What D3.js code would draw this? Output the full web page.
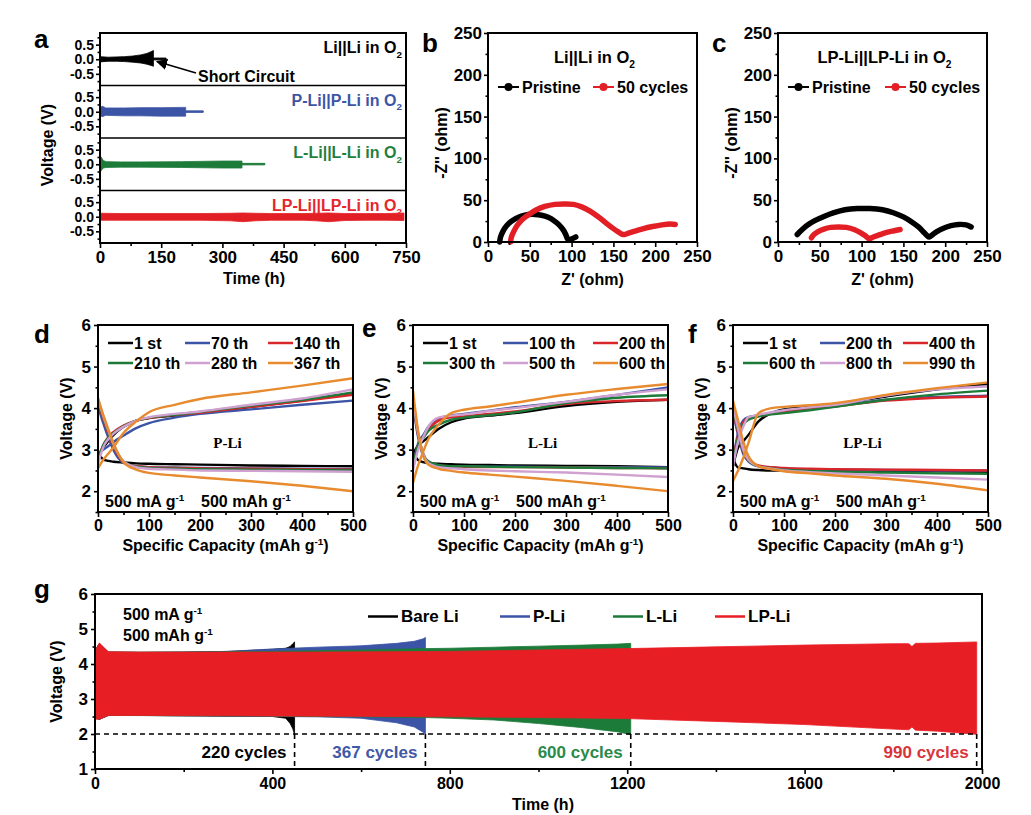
<!DOCTYPE html>
<html><head><meta charset="utf-8">
<script src="https://cdn.jsdelivr.net/npm/d3@7"></script>
<style>body{margin:0;background:#fff}</style>
</head><body><script>
// ================= DATA =================
// Panel a : symmetric cells, envelope of voltage oscillation (time h, V)
const aLiT=[0,20,40,60,80,100,115,125,131];
const aLiUp=[0.09,0.07,0.08,0.09,0.11,0.15,0.2,0.26,0.3];
const aLiLo=[-0.09,-0.07,-0.07,-0.08,-0.1,-0.13,-0.17,-0.21,-0.24];
const aLiTailT=[131,162], aLiTailUp=[0.04,0.04], aLiTailLo=[-0.02,-0.02];
const aPT=[2,5,9,14,30,60,100,150,200,210];
const aPUp=[0.15,0.19,0.17,0.13,0.13,0.13,0.14,0.14,0.15,0.15];
const aPLo=[-0.13,-0.17,-0.15,-0.12,-0.13,-0.14,-0.14,-0.15,-0.15,-0.15];
const aPTailT=[210,253], aPTailUp=[0.03,0.03], aPTailLo=[-0.02,-0.02];
const aLT=[0,3,8,15,50,100,200,300,348];
const aLUp=[0.22,0.25,0.13,0.09,0.08,0.08,0.09,0.11,0.11];
const aLLo=[-0.2,-0.22,-0.13,-0.11,-0.1,-0.1,-0.11,-0.13,-0.13];
const aLTailT=[348,404], aLTailUp=[0.03,0.03], aLTailLo=[-0.02,-0.02];
const aLPT=[0,4,50,150,250,320,350,380,420,500,530,560,600,650,700,745];
const aLPUp=[0.15,0.12,0.11,0.11,0.11,0.12,0.13,0.12,0.11,0.11,0.12,0.13,0.11,0.11,0.11,0.13];
const aLPLo=[-0.15,-0.12,-0.12,-0.12,-0.12,-0.14,-0.17,-0.14,-0.12,-0.12,-0.14,-0.17,-0.13,-0.12,-0.12,-0.13];
const aXTicks=[0,150,300,450,600,750], aXMinor=[75,225,375,525,675];
const aYTicks=[-0.5,0,0.5], aYMinor=[-0.75,-0.25,0.25,0.75];

// Panel b : Li||Li Nyquist (Z', -Z'')
const bPrisZr=[14,15,18,22,27,33,40,48,56,64,72,79,85,90,93,95,97,100,105];
const bPrisZi=[0,6,13,19,24,28,31,32.8,33,32,29.5,25.5,20.5,14.5,9,4,2,3.5,6];
const b50Zr=[27,28,31,35,41,49,58,68,80,92,102,112,122,132,142,150,156,160,163,168,176,186,197,208,218,224];
const b50Zi=[0,6,13,20,27,33,38.5,42.5,45,45.5,45,42,37,30,22,16,12,9.5,9,10.5,13,16,18.5,20.5,21.5,21];
// Panel c : LP-Li||LP-Li Nyquist
const cPrisZr=[23,28,35,44,55,67,80,95,110,125,138,150,160,168,174,178,181,184,190,198,207,216,225,231];
const cPrisZi=[9,14,20,25.5,30.5,35,38.5,40,40,38.5,35,30,24,18,12,8,6,8,12.5,16.5,19.5,21,20.5,18];
const c50Zr=[40,43,48,55,63,72,82,91,99,105,109,114,121,130,139,146];
const c50Zi=[5,9,12.5,15.5,17.5,18,17.5,15,11,7,4,6,8.5,11.5,13.5,15];
const bTicks=[0,50,100,150,200,250], bMinor=[25,75,125,175,225];

// Panels d-f : charge/discharge profiles (specific capacity mAh/g, V)
const cap=[0,10,20,30,50,75,100,150,200,300,400,500];
const dLabels=["1 st","70 th","140 th","210 th","280 th","367 th"];
const dCh=[
 [2.85,3.05,3.2,3.35,3.55,3.7,3.76,3.82,3.88,4.03,4.18,4.35],
 [2.9,3.0,3.08,3.18,3.34,3.52,3.64,3.77,3.86,3.97,4.08,4.18],
 [2.75,3.1,3.3,3.42,3.58,3.7,3.76,3.83,3.89,4.03,4.17,4.32],
 [2.7,3.1,3.28,3.4,3.56,3.7,3.77,3.84,3.91,4.06,4.2,4.38],
 [2.65,3.05,3.25,3.38,3.55,3.7,3.78,3.86,3.92,4.08,4.23,4.45],
 [2.55,2.75,2.9,3.05,3.4,3.68,3.9,4.08,4.22,4.38,4.54,4.72]];
const dDis=[
 [2.9,2.77,2.73,2.71,2.69,2.67,2.66,2.65,2.64,2.62,2.61,2.6],
 [4.05,3.65,3.3,3.0,2.68,2.6,2.58,2.57,2.56,2.55,2.54,2.53],
 [4.15,3.75,3.4,3.08,2.7,2.6,2.58,2.56,2.55,2.54,2.53,2.52],
 [4.2,3.8,3.45,3.12,2.72,2.59,2.56,2.54,2.53,2.52,2.51,2.5],
 [4.22,3.82,3.47,3.14,2.72,2.58,2.54,2.52,2.5,2.49,2.48,2.47],
 [4.25,3.85,3.5,3.17,2.7,2.52,2.44,2.38,2.33,2.24,2.13,2.0]];
const eLabels=["1 st","100 th","200 th","300 th","500 th","600 th"];
const eCh=[
 [2.9,3.1,3.2,3.3,3.5,3.66,3.75,3.82,3.88,4.05,4.15,4.2],
 [2.6,3.15,3.35,3.55,3.75,3.82,3.86,3.94,4.02,4.15,4.32,4.5],
 [2.6,3.1,3.3,3.48,3.7,3.78,3.8,3.86,3.92,4.1,4.17,4.2],
 [2.6,3.1,3.28,3.45,3.6,3.72,3.77,3.83,3.9,4.12,4.25,4.31],
 [2.5,3.0,3.3,3.55,3.77,3.82,3.85,3.93,4.0,4.15,4.32,4.45],
 [2.2,2.62,2.95,3.25,3.6,3.88,3.96,4.04,4.13,4.32,4.46,4.58]];
const eDis=[
 [2.95,2.75,2.7,2.68,2.66,2.65,2.64,2.63,2.62,2.61,2.6,2.58],
 [4.1,3.3,2.85,2.7,2.62,2.6,2.6,2.59,2.59,2.58,2.58,2.57],
 [4.15,3.35,2.9,2.7,2.62,2.6,2.59,2.58,2.58,2.57,2.56,2.55],
 [4.2,3.4,2.9,2.72,2.63,2.6,2.6,2.59,2.58,2.57,2.56,2.55],
 [4.25,3.4,2.9,2.68,2.58,2.55,2.53,2.5,2.48,2.45,2.4,2.34],
 [4.42,3.45,2.85,2.64,2.54,2.49,2.45,2.4,2.35,2.25,2.13,2.0]];
const fLabels=["1 st","200 th","400 th","600 th","800 th","990 th"];
const fCh=[
 [2.6,3.05,3.2,3.35,3.68,3.88,3.97,4.03,4.1,4.28,4.45,4.58],
 [2.75,3.4,3.7,3.78,3.82,3.87,3.92,3.98,4.05,4.2,4.27,4.3],
 [2.7,3.35,3.65,3.76,3.8,3.86,3.9,3.97,4.04,4.18,4.25,4.28],
 [2.65,3.3,3.6,3.72,3.8,3.85,3.88,3.95,4.03,4.2,4.33,4.42],
 [2.6,3.2,3.55,3.78,3.84,3.9,3.95,4.02,4.08,4.3,4.45,4.52],
 [2.25,2.5,2.8,3.15,3.88,4.0,4.03,4.07,4.12,4.32,4.48,4.62]];
const fDis=[
 [2.78,2.57,2.55,2.53,2.51,2.5,2.5,2.49,2.49,2.48,2.48,2.47],
 [3.9,3.35,2.9,2.72,2.6,2.57,2.55,2.53,2.52,2.51,2.5,2.5],
 [3.95,3.4,2.95,2.74,2.62,2.58,2.56,2.54,2.53,2.52,2.51,2.5],
 [4.0,3.45,2.98,2.75,2.6,2.55,2.52,2.49,2.47,2.45,2.43,2.42],
 [4.05,3.5,3.0,2.76,2.6,2.54,2.5,2.46,2.43,2.38,2.33,2.28],
 [4.18,3.7,3.2,2.85,2.6,2.53,2.48,2.43,2.38,2.3,2.18,2.02]];
const capTicks=[0,100,200,300,400,500], capMinor=[50,150,250,350,450];
const vTicks=[2,3,4,5,6], vMinor=[1.5,2.5,3.5,4.5,5.5];

// Panel g : full-cell cycling envelopes (time h, upper V, lower V)
const gBareT=[0,3,10,30,100,200,300,400,430,440,446,450];
const gBareUp=[3.3,4.45,4.58,4.34,4.33,4.34,4.36,4.42,4.45,4.5,4.58,4.63];
const gBareLo=[3.15,2.45,2.42,2.53,2.53,2.52,2.51,2.5,2.45,2.3,2.15,1.98];
const gPT=[0,3,10,30,100,200,300,400,500,600,680,720,740,745];
const gPUp=[3.3,4.45,4.58,4.34,4.33,4.34,4.36,4.43,4.48,4.52,4.59,4.65,4.72,4.76];
const gPLo=[3.15,2.45,2.42,2.53,2.53,2.52,2.51,2.5,2.49,2.45,2.32,2.2,2.05,1.98];
const gLT=[0,3,10,30,200,400,600,745,800,900,1000,1100,1180,1208];
const gLUp=[3.3,4.45,4.58,4.34,4.34,4.36,4.4,4.44,4.45,4.48,4.51,4.54,4.57,4.59];
const gLLo=[3.15,2.45,2.42,2.53,2.52,2.51,2.49,2.47,2.45,2.4,2.3,2.18,2.06,1.98];
const gLPT=[0,3,10,30,100,300,500,800,1000,1200,1400,1600,1800,1835,1842,1850,1900,1988];
const gLPUp=[3.3,4.45,4.6,4.35,4.34,4.34,4.34,4.36,4.4,4.44,4.49,4.54,4.58,4.58,4.5,4.59,4.6,4.63];
const gLPLo=[3.15,2.42,2.42,2.53,2.53,2.52,2.51,2.49,2.47,2.44,2.36,2.27,2.14,2.12,2.2,2.11,2.08,1.99];
const gCycles=["220 cycles","367 cycles","600 cycles","990 cycles"];
const gXTicks=[0,400,800,1200,1600,2000], gXMinor=[200,600,1000,1400,1800];
const gYTicks=[1,2,3,4,5,6], gYMinor=[1.5,2.5,3.5,4.5,5.5];

// ================= DRAWING =================
const FONT="'Liberation Sans', Arial, Helvetica, sans-serif";
const COL={black:"#000000",blue:"#3b54a5",red:"#e31f26",green:"#1d7b3a",pink:"#cfa0d0",orange:"#e88b2e"};
const svg=d3.select("body").append("svg").attr("width",1031).attr("height",815).style("background","#fff");

function rich(parent,x,y,segs,o={}){
  const size=o.size||16;
  const t=parent.append("text").attr("x",x).attr("y",y).attr("font-size",size)
    .attr("text-anchor",o.anchor||"start").attr("fill",o.fill||"#000")
    .attr("font-family",o.family||FONT).attr("font-weight","bold");
  let shift=0;
  segs.forEach(s=>{
    let str=s,kind="n"; if(typeof s!=="string"){str=s[0];kind=s[1];}
    const target=kind==="sub"?size*0.3:kind==="sup"?-size*0.4:0;
    const sp=t.append("tspan").text(str).attr("dy",target-shift);
    if(kind!=="n") sp.attr("font-size",size*0.62);
    shift=target;
  });
  if(o.rotate!=null) t.attr("transform",`rotate(${o.rotate},${x},${y})`);
  return t;
}
function styleAxis(s,fs){
  s.select(".domain").remove();
  s.attr("font-family",FONT).attr("font-size",fs).attr("font-weight","bold");
  s.selectAll("line").attr("stroke","#000").attr("stroke-width",1.6);
  s.selectAll("text").attr("fill","#000");
}
function axisBottom(g,xs,h,major,minor,fs,fmt,pad){
  const a=g.append("g").attr("transform",`translate(0,${h})`)
    .call(d3.axisBottom(xs).tickValues(major).tickSize(5).tickPadding(pad==null?3:pad).tickFormat(fmt||(d=>d)));
  styleAxis(a,fs);
  const m=g.append("g").attr("transform",`translate(0,${h})`)
    .call(d3.axisBottom(xs).tickValues(minor).tickSize(3).tickFormat(""));
  styleAxis(m,fs);
}
function axisLeft(g,ys,major,minor,fs,fmt,pad){
  const a=g.append("g").call(d3.axisLeft(ys).tickValues(major).tickSize(4).tickPadding(pad==null?3:pad).tickFormat(fmt||(d=>d)));
  styleAxis(a,fs);
  const m=g.append("g").call(d3.axisLeft(ys).tickValues(minor).tickSize(2.5).tickFormat(""));
  styleAxis(m,fs);
}
function box(g,w,h){g.append("rect").attr("width",w).attr("height",h).attr("fill","none").attr("stroke","#000").attr("stroke-width",2);}
function zip(t,u,l){return t.map((v,i)=>({t:v,u:u[i],l:l[i]}));}

// ---------- Panel a ----------
(function(){
  const X0=100,Y0=33,W=306,H=210,sh=H/4;
  const g=svg.append("g").attr("transform",`translate(${X0},${Y0})`);
  const xs=d3.scaleLinear().domain([0,750]).range([0,W]);
  const subs=[
    {band:zip(aLiT,aLiUp,aLiLo),tail:zip(aLiTailT,aLiTailUp,aLiTailLo),c:COL.black,lab:"Li||Li in O",lc:"#000"},
    {band:zip(aPT,aPUp,aPLo),tail:zip(aPTailT,aPTailUp,aPTailLo),c:COL.blue,lab:"P-Li||P-Li in O",lc:"#3d55a5"},
    {band:zip(aLT,aLUp,aLLo),tail:zip(aLTailT,aLTailUp,aLTailLo),c:COL.green,lab:"L-Li||L-Li in O",lc:"#1f8040"},
    {band:zip(aLPT,aLPUp,aLPLo),tail:null,c:COL.red,lab:"LP-Li||LP-Li in O",lc:"#e5262c"}];
  subs.forEach((s,i)=>{
    const ys=d3.scaleLinear().domain([-0.9,0.9]).range([(i+1)*sh,i*sh]);
    const ar=d3.area().x(d=>xs(d.t)).y0(d=>ys(d.l)).y1(d=>ys(d.u)).curve(d3.curveLinear);
    g.append("path").attr("d",ar(s.band)).attr("fill",s.c).attr("stroke",s.c).attr("stroke-width",0.8);
    if(s.tail) g.append("path").attr("d",ar(s.tail)).attr("fill",s.c).attr("stroke",s.c).attr("stroke-width",1);
    axisLeft(g,ys,aYTicks,aYMinor,14,d=>d.toFixed(1),2);
    rich(g,W-4,i*sh+20,[s.lab,["2","sub"]],{anchor:"end",fill:s.lc,size:16});
    if(i>0) g.append("line").attr("x1",0).attr("x2",W).attr("y1",i*sh).attr("y2",i*sh).attr("stroke","#000").attr("stroke-width",1.6);
  });
  axisBottom(g,xs,H,aXTicks,aXMinor,17,null,3);
  box(g,W,H);
  // Short circuit annotation
  const defs=svg.append("defs");
  defs.append("marker").attr("id","arr").attr("viewBox","0 0 10 10").attr("refX",9).attr("refY",5)
    .attr("markerWidth",7).attr("markerHeight",7).attr("orient","auto")
    .append("path").attr("d","M0,0 L10,5 L0,10 z").attr("fill","#000");
  svg.append("line").attr("x1",196).attr("y1",73).attr("x2",157).attr("y2",61.5)
    .attr("stroke","#000").attr("stroke-width",1.6).attr("marker-end","url(#arr)");
  rich(svg,198,82,["Short Circuit"],{size:16});
  rich(svg,53,145,["Voltage (V)"],{anchor:"middle",rotate:-90,size:16});
  rich(svg,254,284,["Time (h)"],{anchor:"middle",size:16});
  rich(svg,34,48,["a"],{size:26});
})();

// ---------- Panels b, c ----------
function nyquist(X0,letter,title,pris,cyc,legX){
  const W=209,H=209,Y0=33;
  const g=svg.append("g").attr("transform",`translate(${X0},${Y0})`);
  const xs=d3.scaleLinear().domain([0,250]).range([0,W]);
  const ys=d3.scaleLinear().domain([0,250]).range([H,0]);
  const ln=d3.line().x(d=>xs(d[0])).y(d=>ys(d[1])).curve(d3.curveCatmullRom);
  g.append("path").attr("d",ln(pris)).attr("fill","none").attr("stroke","#000").attr("stroke-width",5.5).attr("stroke-linejoin","round").attr("stroke-linecap","round");
  g.append("path").attr("d",ln(cyc)).attr("fill","none").attr("stroke",COL.red).attr("stroke-width",5.5).attr("stroke-linejoin","round").attr("stroke-linecap","round");
  axisLeft(g,ys,bTicks,bMinor,17,null,2);
  axisBottom(g,xs,H,bTicks,bMinor,17,null,3);
  box(g,W,H);
  rich(g,W/2+2,30,title,{anchor:"middle",size:16.5});
  // legend
  [[legX[0],"#000","Pristine"],[legX[1],COL.red,"50 cycles"]].forEach(([lx,c,t])=>{
    g.append("line").attr("x1",lx).attr("x2",lx+21).attr("y1",54).attr("y2",54).attr("stroke",c).attr("stroke-width",2);
    g.append("circle").attr("cx",lx+10.5).attr("cy",54).attr("r",4).attr("fill",c);
    rich(g,lx+24,59.5,[t],{size:16});
  });
  rich(svg,X0-41,143,["-Z'' (ohm)"],{anchor:"middle",rotate:-90,size:16});
  rich(svg,X0+W/2,285,["Z' (ohm)"],{anchor:"middle",size:16});
  rich(svg,X0-66,52,[letter],{size:26});
}
nyquist(488,"b",["Li||Li  in O",["2","sub"]],bPrisZr.map((v,i)=>[v,bPrisZi[i]]),b50Zr.map((v,i)=>[v,b50Zi[i]]),[10,105]);
nyquist(778,"c",["LP-Li||LP-Li  in O",["2","sub"]],cPrisZr.map((v,i)=>[v,cPrisZi[i]]),c50Zr.map((v,i)=>[v,c50Zi[i]]),[10,107]);

// ---------- Panels d, e, f ----------
const cycleColors=[COL.black,COL.blue,"#d9262b",COL.green,COL.pink,COL.orange];
function profile(X0,letter,labels,ch,dis,tag,legCols){
  const W=255,H=187,Y0=325;
  const g=svg.append("g").attr("transform",`translate(${X0},${Y0})`);
  const xs=d3.scaleLinear().domain([0,500]).range([0,W]);
  const ys=d3.scaleLinear().domain([1.5,6]).range([H,0]);
  const ln=d3.line().x((d,i)=>xs(cap[i])).y(d=>ys(d)).curve(d3.curveMonotoneX);
  ch.forEach((c,k)=>{
    g.append("path").attr("d",ln(dis[k])).attr("fill","none").attr("stroke",cycleColors[k]).attr("stroke-width",2.4);
    g.append("path").attr("d",ln(c)).attr("fill","none").attr("stroke",cycleColors[k]).attr("stroke-width",2.4);
  });
  axisLeft(g,ys,vTicks,vMinor,17,null,3);
  axisBottom(g,xs,H,capTicks,capMinor,16,null,3);
  box(g,W,H);
  labels.forEach((t,k)=>{
    const row=Math.floor(k/3), col=k%3, lx=legCols[col], ly=18+row*20;
    g.append("line").attr("x1",lx).attr("x2",lx+25).attr("y1",ly).attr("y2",ly).attr("stroke",cycleColors[k]).attr("stroke-width",2.5);
    rich(g,lx+26,ly+5.5,[t],{size:16});
  });
  rich(g,W/2+2,123,[tag],{anchor:"middle",size:15,family:"'Liberation Serif','Times New Roman',serif"});
  rich(g,7,182,["500 mA g",["-1","sup"]],{size:16});
  rich(g,103,182,["500 mAh g",["-1","sup"]],{size:16});
  rich(svg,X0-26,Y0+H/2,["Voltage (V)"],{anchor:"middle",rotate:-90,size:16});
  rich(svg,X0+W/2,551,["Specific Capacity (mAh g",["-1","sup"],")"],{anchor:"middle",size:16});
  return g;
}
profile(98,"d",dLabels,dCh,dDis,"P-Li",[10,87,170]);
profile(413,"e",eLabels,eCh,eDis,"L-Li",[10,90,180]);
profile(733,"f",fLabels,fCh,fDis,"LP-Li",[10,87,170]);
rich(svg,34,343,["d"],{size:26});
rich(svg,362,337,["e"],{size:26});
rich(svg,688,343,["f"],{size:26});

// ---------- Panel g ----------
(function(){
  const X0=95,Y0=594,W=887,H=175;
  const g=svg.append("g").attr("transform",`translate(${X0},${Y0})`);
  const xs=d3.scaleLinear().domain([0,2000]).range([0,W]);
  const ys=d3.scaleLinear().domain([1,6]).range([H,0]);
  const ar=d3.area().x(d=>xs(d.t)).y0(d=>ys(d.l)).y1(d=>ys(d.u));
  const sets=[[zip(gBareT,gBareUp,gBareLo),COL.black],[zip(gPT,gPUp,gPLo),COL.blue],[zip(gLT,gLUp,gLLo),COL.green],[zip(gLPT,gLPUp,gLPLo),"#e81e25"]];
  sets.forEach(([d,c])=>g.append("path").attr("d",ar(d)).attr("fill",c).attr("stroke",c).attr("stroke-width",0.8));
  const ends=[gBareT[gBareT.length-1],gPT[gPT.length-1],gLT[gLT.length-1],gLPT[gLPT.length-1]];
  g.append("line").attr("x1",0).attr("x2",xs(ends[3])).attr("y1",ys(2)).attr("y2",ys(2)).attr("stroke","#000").attr("stroke-width",1.6).attr("stroke-dasharray","5,4");
  const labCol=["#000","#4058a8","#2a8a4a","#d9343a"];
  ends.forEach((e,i)=>{
    g.append("line").attr("x1",xs(e)).attr("x2",xs(e)).attr("y1",ys(2)).attr("y2",H).attr("stroke","#000").attr("stroke-width",1.6).attr("stroke-dasharray","5,4");
    rich(g,xs(e)-8,164,[gCycles[i]],{anchor:"end",size:17,fill:labCol[i]});
  });
  axisLeft(g,ys,gYTicks,gYMinor,17,null,3);
  axisBottom(g,xs,H,gXTicks,gXMinor,16,null,4);
  box(g,W,H);
  rich(g,28,26,["500 mA g",["-1","sup"]],{size:16});
  rich(g,28,47,["500 mAh g",["-1","sup"]],{size:16});
  const leg=[["Bare Li",COL.black,273],["P-Li",COL.blue,405],["L-Li",COL.green,518],["LP-Li","#e81e25",620]];
  leg.forEach(([t,c,lx])=>{
    g.append("line").attr("x1",lx).attr("x2",lx+30).attr("y1",22.5).attr("y2",22.5).attr("stroke",c).attr("stroke-width",2.5);
    rich(g,lx+33,28,[t],{size:17});
  });
  rich(svg,61.5,Y0+H/2,["Voltage (V)"],{anchor:"middle",rotate:-90,size:16});
  rich(svg,543,810,["Time (h)"],{anchor:"middle",size:16});
  rich(svg,34,598,["g"],{size:26});
})();
</script></body></html>
